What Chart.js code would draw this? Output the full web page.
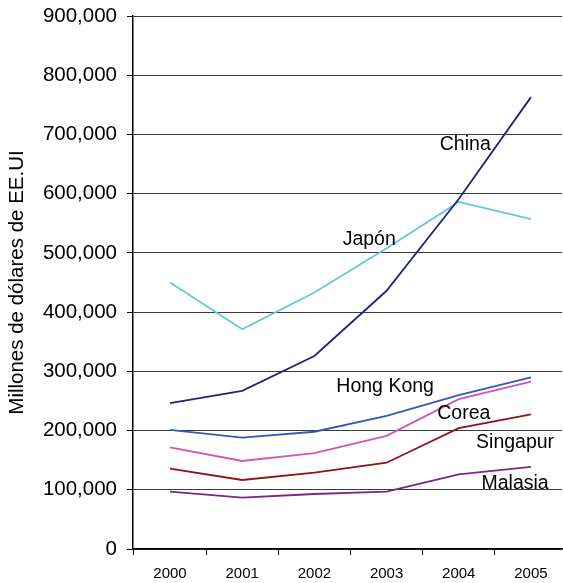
<!DOCTYPE html>
<html><head><meta charset="utf-8">
<script src="https://cdn.jsdelivr.net/npm/chart.js@4"></script>
<style>html,body{margin:0;padding:0;background:#fff}#w{width:563px;height:583px}</style>
</head><body><div id="w"><canvas id="c"></canvas></div>
<script>
const years = [2000, 2001, 2002, 2003, 2004, 2005];
const china = [246500, 267000, 326000, 436000, 591000, 763000];
const japon = [450000, 371000, 433000, 508000, 586000, 557000];
const hongKong = [201000, 188000, 198000, 224600, 260000, 290000];
const corea = [171700, 148600, 162000, 191000, 253000, 282500];
const singapur = [135600, 116500, 128900, 145700, 204000, 227400];
const malasia = [96800, 86700, 92900, 96800, 126000, 138500];
const seriesNames = ['China', 'Japón', 'Hong Kong', 'Corea', 'Singapur', 'Malasia'];
const labelX = [2004.09, 2002.76, 2002.98, 2004.07, 2004.78, 2004.78];
const labelY = [682000, 522000, 275000, 228000, 179000, 111000];
const yTicks = [0, 100000, 200000, 300000, 400000, 500000, 600000, 700000, 800000, 900000];
const yTitle = 'Millones de dólares de EE.UI';

const colors = ['#23237a', '#62c8da', '#3558b8', '#d055b4', '#8c1414', '#7d2488'];
const allSeries = [china, japon, hongKong, corea, singapur, malasia];
const FONT = 'Liberation Sans, Arial, sans-serif';

const datasets = allSeries.map((s, i) => ({
  label: seriesNames[i],
  data: s.map((v, j) => ({x: years[j], y: v})),
  borderColor: colors[i],
  borderWidth: 1.8,
  pointRadius: 0,
  fill: false,
  tension: 0
}));

const labelPlugin = {
  id: 'seriesLabels',
  afterDatasetsDraw(chart) {
    const {ctx, scales: {x, y}} = chart;
    ctx.save();
    ctx.font = '19.5px ' + FONT;
    ctx.fillStyle = '#000';
    ctx.textAlign = 'center';
    ctx.textBaseline = 'middle';
    seriesNames.forEach((n, i) => {
      ctx.fillText(n, x.getPixelForValue(labelX[i]), y.getPixelForValue(labelY[i]));
    });
    ctx.restore();
  }
};

new Chart(document.getElementById('c'), {
  type: 'line',
  data: {datasets},
  options: {
    responsive: true,
    maintainAspectRatio: false,
    animation: false,
    layout: {padding: {top: 16, right: 1, left: 0, bottom: 0}},
    plugins: {legend: {display: false}, tooltip: {enabled: false}},
    scales: {
      x: {
        type: 'linear',
        min: 1999.4875,
        max: 2005.43,
        afterBuildTicks(scale) {
          const t = [];
          years.forEach(yv => { t.push({value: yv - 0.5}); t.push({value: yv}); });
          scale.ticks = t;
        },
        afterFit(scale) { scale.height = 34; scale.paddingLeft = 0; scale.paddingRight = 0; },
        border: {display: true, color: '#000', width: 1.5},
        grid: {
          drawOnChartArea: false,
          drawTicks: true,
          tickLength: 6,
          tickColor: ctx => (ctx.tick && Number.isInteger(ctx.tick.value)) ? 'rgba(0,0,0,0)' : '#000'
        },
        ticks: {
          autoSkip: false,
          maxRotation: 0,
          padding: 10,
          color: '#000',
          font: {family: FONT, size: 15},
          callback: v => Number.isInteger(v) ? String(v) : ''
        }
      },
      y: {
        min: 0,
        max: 900000,
        afterBuildTicks(scale) { scale.ticks = yTicks.map(v => ({value: v})); },
        afterFit(scale) { scale.width = 133; scale.paddingTop = 0; scale.paddingBottom = 0; },
        border: {display: true, color: '#000', width: 1.5},
        grid: {color: '#3a3a3a', lineWidth: 1, drawTicks: true, tickLength: 6, tickColor: '#000'},
        ticks: {
          color: '#000',
          padding: 10,
          font: {family: FONT, size: 20.5},
          callback: v => v.toLocaleString('en-US')
        },
        title: {
          display: true,
          text: yTitle,
          color: '#000',
          font: {family: FONT, size: 20.5},
          padding: {top: 5, bottom: 0}
        }
      }
    }
  },
  plugins: [labelPlugin]
});
</script></body></html>
